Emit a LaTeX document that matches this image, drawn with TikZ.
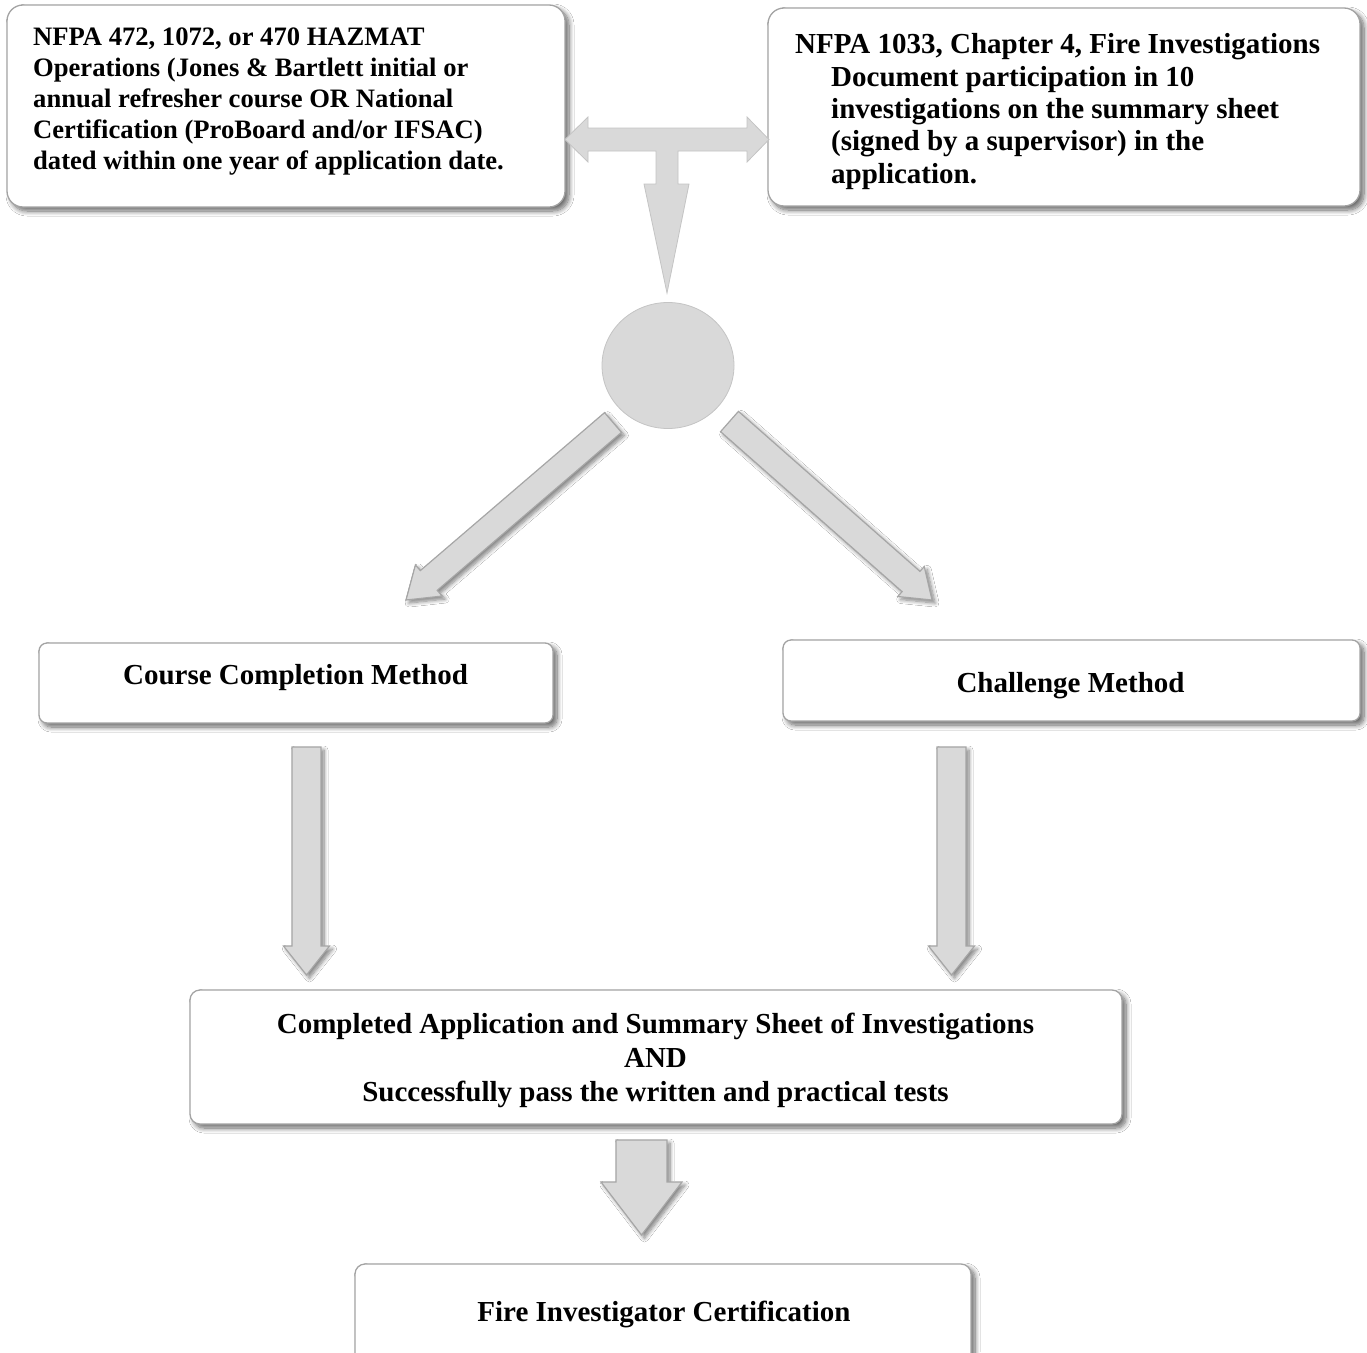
\documentclass[tikz,border=0pt]{standalone}
\usepackage{fontspec}
\setmainfont{Liberation Serif}
\usetikzlibrary{calc,shadows.blur,shapes.geometric}
\definecolor{boxline}{HTML}{A3A3A3}
\definecolor{arrfill}{HTML}{D9D9D9}
\definecolor{arrline}{HTML}{A6A6A6}
\definecolor{lightline}{HTML}{C4C4C4}
\newcommand\blockarrow[6][]{%
  \coordinate (ba-h) at ($(#3)!#6!(#2)$);
  \path[#1] ($(#2)!#4!90:(#3)$) -- ($(ba-h)!#4!90:(#3)$) -- ($(ba-h)!#5!90:(#3)$) -- (#3)
    -- ($(ba-h)!#5!-90:(#3)$) -- ($(ba-h)!#4!-90:(#3)$) -- ($(#2)!#4!-90:(#3)$) -- cycle;
}
\begin{document}
\begin{tikzpicture}[x=1pt,y=-1pt,
  rbox/.style={draw=boxline, line width=1.3pt, fill=white, rounded corners=#1, inner sep=0pt,
    blur shadow={shadow xshift=4pt, shadow yshift=-4pt, shadow blur radius=5pt, shadow blur steps=10, shadow opacity=60}},
  barrow/.style={draw=arrline, fill=arrfill, line width=1.2pt, line join=miter,
    blur shadow={shadow xshift=3pt, shadow yshift=-3pt, shadow blur radius=4pt, shadow blur steps=8, shadow opacity=50}},
  tarrow/.style={draw=lightline, fill=arrfill, line width=0.8pt, line join=miter},
  txtA/.style={font=\bfseries\fontsize{26.6pt}{31pt}\selectfont, inner sep=0pt, align=left},
  txtB/.style={font=\bfseries\fontsize{29pt}{32.3pt}\selectfont, inner sep=0pt, align=left},
  txtC/.style={font=\bfseries\fontsize{29pt}{34pt}\selectfont, inner sep=0pt, align=center},
]
\clip (0,0) rectangle (1367,1352);
\fill[white] (0,0) rectangle (1367,1352);

% boxes
\node[rbox=16pt, minimum width=558pt, minimum height=202pt] (tl) at (286,106) {};
\node[rbox=16pt, minimum width=592pt, minimum height=198pt] (tr) at (1064,107) {};
\node[rbox=8pt, minimum width=514pt, minimum height=80pt] (course) at (296,683) {};
\node[rbox=8pt, minimum width=577pt, minimum height=81pt] (chal) at (1071.5,680.5) {};
\node[rbox=10pt, minimum width=932pt, minimum height=134pt] (comp) at (656,1057) {};
\node[rbox=10pt, minimum width=616pt, minimum height=116pt] (cert) at (663,1322) {};

% texts
\node[txtA, anchor=west] (tlt) at (33,102) {NFPA 472, 1072, or 470 HAZMAT\\Operations (Jones \& Bartlett initial or\\annual refresher course OR National\\Certification (ProBoard and/or IFSAC)\\dated within one year of application date.};
\node[txtB, anchor=west] (trt) at (795,111.5) {NFPA 1033, Chapter 4, Fire Investigations\\\hspace*{36pt}Document participation in 10\\\hspace*{36pt}investigations on the summary sheet\\\hspace*{36pt}(signed by a supervisor) in the\\\hspace*{36pt}application.};
\node[txtC, anchor=base] (coursetxt) at (295.5,684) {Course Completion Method};
\node[txtC, anchor=base] (chaltxt) at (1070.5,692) {Challenge Method};
\node[txtC] (comptxt) at (655.5,1060) {Completed Application and Summary Sheet of Investigations\\AND\\Successfully pass the written and practical tests};
\node[txtC, anchor=base] (certtxt) at (664,1321) {Fire Investigator Certification};

% T-shaped arrow between top boxes
\path[tarrow] (565,139.5) -- (588,117) -- (588,128) -- (747,128) -- (747,117) -- (769,139.5)
  -- (747,162) -- (747,151) -- (678,151) -- (678,184) -- (689,184) -- (667,293)
  -- (644,184) -- (656,184) -- (656,151) -- (588,151) -- (588,162) -- cycle;

% circle
\node[draw=lightline, fill=arrfill, line width=0.8pt, ellipse, minimum width=132pt, minimum height=126pt, inner sep=0pt] (hub) at (668,365.5) {};

% connectors
\coordinate (l1) at (613,422.5);  \coordinate (l2) at (406,600);
\coordinate (r1) at (729.5,421.5); \coordinate (r2) at (932,600);
\coordinate (v1) at (306.5,747);  \coordinate (v2) at (306.5,975);
\coordinate (w1) at (951.5,747);  \coordinate (w2) at (951.5,975);
\coordinate (b1) at (641.5,1140); \coordinate (b2) at (641.5,1235);
\blockarrow[barrow]{l1}{l2}{13pt}{20.5pt}{30pt}
\blockarrow[barrow]{r1}{r2}{13.5pt}{20pt}{28pt}
\blockarrow[barrow]{v1}{v2}{14.5pt}{23pt}{29pt}
\blockarrow[barrow]{w1}{w2}{14.5pt}{23pt}{29pt}
\blockarrow[barrow]{b1}{b2}{25.5pt}{40.5pt}{53pt}
\end{tikzpicture}
\end{document}
